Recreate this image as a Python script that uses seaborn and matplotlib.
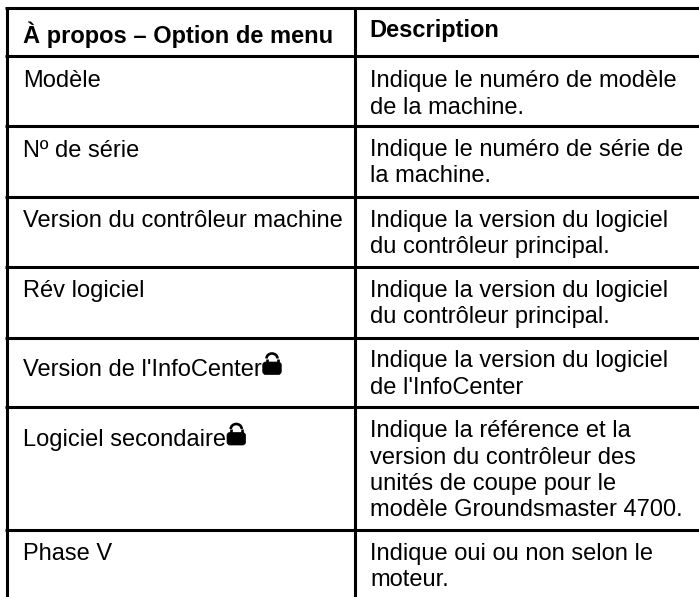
import matplotlib
matplotlib.use("Agg")
import matplotlib.pyplot as plt
import seaborn as sns
from matplotlib.patches import FancyBboxPatch, Arc

header = ["À propos – Option de menu", "Description"]
options = [
    "Modèle",
    "Nº de série",
    "Version du contrôleur machine",
    "Rév logiciel",
    "Version de l'InfoCenter",
    "Logiciel secondaire",
    "Phase V",
]
descriptions = [
    ["Indique le numéro de modèle", "de la machine."],
    ["Indique le numéro de série de", "la machine."],
    ["Indique la version du logiciel", "du contrôleur principal."],
    ["Indique la version du logiciel", "du contrôleur principal."],
    ["Indique la version du logiciel", "de l'InfoCenter"],
    ["Indique la référence et la", "version du contrôleur des", "unités de coupe pour le", "modèle Groundsmaster 4700."],
    ["Indique oui ou non selon le", "moteur."],
]
locked = [False, False, False, False, True, True, False]

# layout in image pixels
W, H = 699, 597
rules_y = [8, 56, 126, 197, 267, 338, 407, 530]
rules_x = [6.5, 355]
option_offset = [31, 31, 30, 30, 37.5, 39, 30]
desc_offset = [31, 30, 30, 30, 29, 30, 30]
text_x = [23, 370]
line_h = 26.5
fs = 17.05

sns.set_theme(style="white")
plt.rcParams["font.family"] = ["Liberation Sans", "DejaVu Sans"]

fig, ax = plt.subplots(figsize=(W / 100, H / 100), dpi=100)
fig.subplots_adjust(0, 0, 1, 1)
ax.set_xlim(0, W)
ax.set_ylim(H, 0)
ax.axis("off")


def draw_lock(x, base):
    # body then shackle, sitting on the text baseline
    ax.add_patch(FancyBboxPatch((x + 0.5, base - 13.5), 18.5, 12.5, boxstyle="round,pad=0,rounding_size=3",
                                fc="black", ec="black", lw=0.5))
    ax.add_patch(Arc((x + 9.75, base - 17), 11, 10, theta1=180, theta2=360, color="black", lw=1.9))
    ax.vlines([x + 4.25, x + 15.25], base - 17, base - 12, color="black", lw=1.9)


ax.hlines(rules_y, rules_x[0] - 1.5, W, color="black", lw=2.2)
ax.vlines(rules_x, rules_y[0], H, color="black", lw=2.2)

ax.text(text_x[0], 43, header[0], fontsize=fs, fontweight="bold", color="black")
ax.text(text_x[1] - 0.5, 37, header[1], fontsize=fs, fontweight="bold", color="black")

fig.canvas.draw()
for i, (opt, desc) in enumerate(zip(options, descriptions)):
    top = rules_y[i + 1]
    t = ax.text(text_x[0], top + option_offset[i], opt, fontsize=fs, color="black")
    if locked[i]:
        bb = t.get_window_extent(fig.canvas.get_renderer())
        draw_lock(bb.x1 + 0.5, top + option_offset[i])
    for j, line in enumerate(desc):
        ax.text(text_x[1], top + desc_offset[i] + j * line_h, line, fontsize=fs, color="black")

fig.savefig("out.png", dpi=100)
